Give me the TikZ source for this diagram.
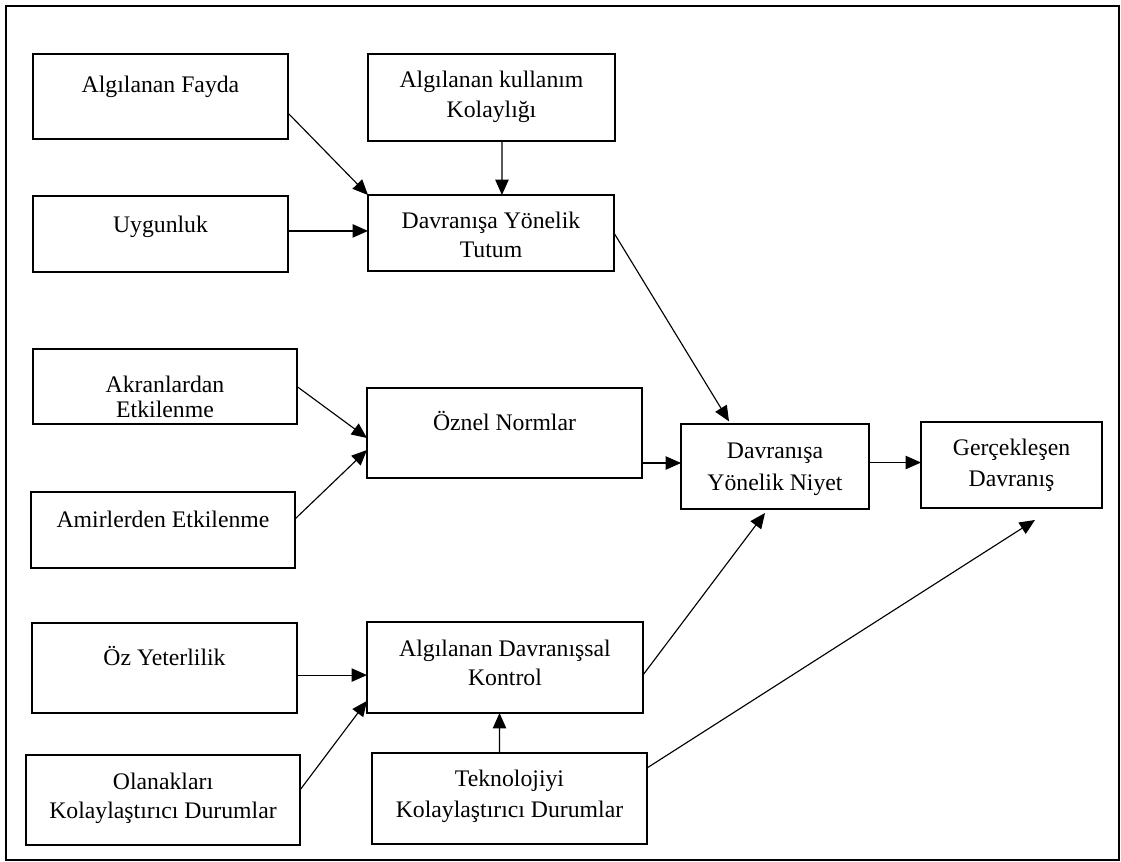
\documentclass[tikz,border=0pt]{standalone}
\usepackage{fontspec}
\setmainfont{Liberation Serif}
\usetikzlibrary{arrows.meta}
\newdimen\pxu \pxu=0.75pt
\newcommand\bt[5]{\parbox[c][#2\pxu][t]{#1\pxu}{\centering\baselineskip=#4\pxu\lineskiplimit=-\maxdimen\vspace*{\dimexpr#3\pxu-16pt\relax}\rule{0pt}{16pt}#5\par}}
\tikzset{
  boxn/.style={draw, line width=1.6pt, inner sep=0pt, outer sep=0pt},
  arr/.style={line width=0.85pt, -{Triangle[length=11.5pt,width=10pt]}},
  frame/.style={draw, line width=1.5pt}
}
\begin{document}
\begin{tikzpicture}[x=0.75pt, y=-0.75pt, font=\fontsize{17.8}{21}\selectfont]
\useasboundingbox (0,0) rectangle (1121,861);
\draw[frame] (6,6) rectangle (1119,860);
% boxes
\node[boxn] (fayda)  at (160.5,96.5) {\bt{255}{85}{38}{28}{Algılanan Fayda}};
\node[boxn] (kolay)  at (491.5,97.5) {\bt{247}{87}{33}{30}{Algılanan kullanım\\Kolaylığı}};
\node[boxn] (uyg)    at (160.5,234)  {\bt{255}{76}{36}{28}{Uygunluk}};
\node[boxn] (tutum)  at (491,233)    {\bt{246}{76}{33}{29}{Davranışa Yönelik\\Tutum}};
\node[boxn] (akran)  at (165,386.5)  {\bt{264}{75}{43}{25}{Akranlardan\\Etkilenme}};
\node[boxn] (amir)   at (163,530)    {\bt{264}{76}{35}{28}{Amirlerden Etkilenme}};
\node[boxn] (oznel)  at (504.5,433)  {\bt{275}{90}{42}{28}{Öznel Normlar}};
\node[boxn] (niyet)  at (775,466.5)  {\bt{188}{85}{34}{32}{Davranışa\\Yönelik Niyet}};
\node[boxn] (gercek) at (1011.5,465) {\bt{181}{86}{33}{31}{Gerçekleşen\\Davranış}};
\node[boxn] (ozyet)  at (164.5,668)  {\bt{265}{90}{42}{28}{Öz Yeterlilik}};
\node[boxn] (olanak) at (163,800)    {\bt{274}{90}{34}{29}{Olanakları\\Kolaylaştırıcı Durumlar}};
\node[boxn] (kontrol) at (505,667.5) {\bt{276}{91}{34}{29}{Algılanan Davranışsal\\Kontrol}};
\node[boxn] (tekno)  at (509.5,798.5) {\bt{275}{91}{33}{31}{Teknolojiyi\\Kolaylaştırıcı Durumlar}};
% helper coordinates
\coordinate (u1) at ([yshift=2.3pt]uyg.east);
\coordinate (o1) at ([yshift=-22.5pt]oznel.east);
\coordinate (n1) at ([yshift=3pt]niyet.east);
\coordinate (z1) at ([yshift=-5.3pt]ozyet.east);
% connectors
\draw[arr] ([yshift=-12.4pt]fayda.east) -- (tutum.north west);
\draw[arr] ([xshift=7.9pt]kolay.south) -- ([xshift=8.2pt]tutum.north);
\draw[arr] (u1) -- (u1 -| tutum.west);
\draw[arr] (tutum.east) -- ([xshift=-34.5pt,yshift=2pt]niyet.north);
\draw[arr] (akran.east) -- ([yshift=-3.75pt]oznel.west);
\draw[arr] ([yshift=8.25pt]amir.east) -- ([yshift=-12.75pt]oznel.west);
\draw[arr] (o1) -- (o1 -| niyet.west);
\draw[arr] (n1) -- (n1 -| gercek.west);
\draw[arr] (z1) -- (z1 -| kontrol.west);
\draw[arr] ([yshift=7.5pt]olanak.east) -- ([yshift=-25pt]kontrol.west);
\draw[arr] ([xshift=-7.5pt]tekno.north) -- ([xshift=-4.1pt]kontrol.south);
\draw[arr] ([yshift=-5.6pt]kontrol.east) -- ([xshift=-7.5pt,yshift=-3pt]niyet.south);
\draw[arr] ([yshift=22.9pt]tekno.east) -- ([xshift=17.6pt,yshift=-9pt]gercek.south);
\end{tikzpicture}
\end{document}
